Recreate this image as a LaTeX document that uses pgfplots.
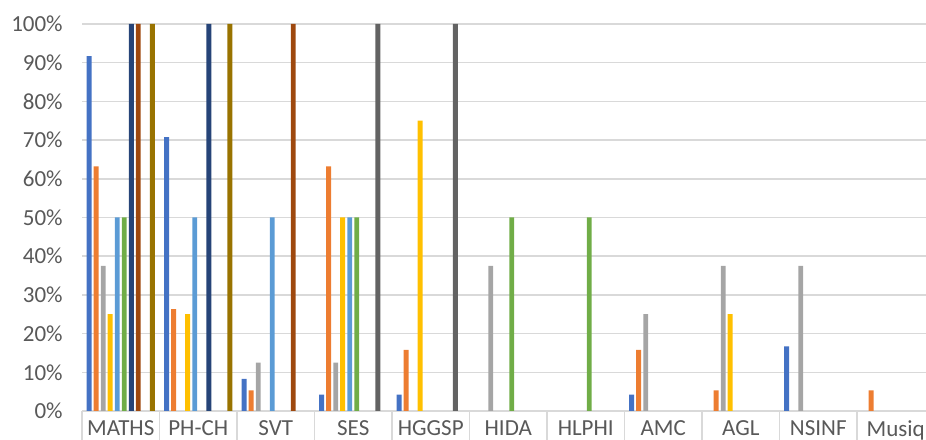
\documentclass[border=0pt]{standalone}
\usepackage{pgfplots}
\pgfplotsset{compat=1.18}
\usepackage{fontspec}
\setmainfont{Carlito}
\definecolor{gridc}{HTML}{D9D9D9}
\definecolor{txt}{HTML}{595959}
\definecolor{s1}{HTML}{4472C4}
\definecolor{s2}{HTML}{ED7D31}
\definecolor{s3}{HTML}{A5A5A5}
\definecolor{s4}{HTML}{FFC000}
\definecolor{s5}{HTML}{5B9BD5}
\definecolor{s6}{HTML}{70AD47}
\definecolor{s7}{HTML}{264478}
\definecolor{s8}{HTML}{9E480E}
\definecolor{s9}{HTML}{636363}
\definecolor{s10}{HTML}{997300}
\begin{document}
\begin{tikzpicture}
% 1px of the reference = 0.5pt
\useasboundingbox (0,0) rectangle (463pt,219.5pt);
\begin{axis}[
    at={(41pt,14pt)}, anchor=south west,
    scale only axis,
    width=426.25pt, height=193.5pt,
    xmin=-0.5, xmax=10.5,
    ymin=0, ymax=100,
    ybar, bar width=0.064,
    axis x line=bottom, axis y line=left,
    axis line style={-},
    x axis line style={draw=gridc, line width=0.75pt},
    y axis line style={draw=none},
    ymajorgrids,
    grid style={gridc, line width=0.75pt},
    ytick={0,10,...,100},
    yticklabel={\pgfmathprintnumber{\tick}\%},
    ytick style={draw=none},
    xtick={0,...,10},
    xticklabels={MATHS,PH-CH,SVT,SES,HGGSP,HIDA,HLPHI,AMC,AGL,NSINF,Musiq},
    xtick style={draw=none},
    extra x ticks={-0.5,0.5,...,10.5},
    extra x tick labels={},
    extra x tick style={tick align=outside, major tick length=16pt,
        xtick style={draw=gridc, line width=0.75pt}, grid=none},
    /pgf/number format/assume math mode=true,
    tick label style={font=\fontsize{11.5}{13}\selectfont, text=txt},
    yticklabel style={xshift=-4pt},
    xticklabel style={yshift=0.8pt},
    every axis plot/.append style={draw=none},
]
\addplot[fill=s1, bar shift=-0.407] coordinates {(0,91.7) (1,70.8) (2,8.3) (3,4.2) (4,4.2) (7,4.2) (9,16.7)};
\addplot[fill=s2, bar shift=-0.317] coordinates {(0,63.2) (1,26.3) (2,5.3) (3,63.2) (4,15.8) (7,15.8) (8,5.3) (10,5.3)};
\addplot[fill=s3, bar shift=-0.226] coordinates {(0,37.5) (2,12.5) (3,12.5) (5,37.5) (7,25) (8,37.5) (9,37.5)};
\addplot[fill=s4, bar shift=-0.136] coordinates {(0,25) (1,25) (3,50) (4,75) (8,25)};
\addplot[fill=s5, bar shift=-0.045] coordinates {(0,50) (1,50) (2,50) (3,50)};
\addplot[fill=s6, bar shift=0.045] coordinates {(0,50) (3,50) (5,50) (6,50)};
\addplot[fill=s7, bar shift=0.136] coordinates {(0,100) (1,100)};
\addplot[fill=s8, bar shift=0.226] coordinates {(0,100) (2,100)};
\addplot[fill=s9, bar shift=0.317] coordinates {(3,100) (4,100)};
\addplot[fill=s10, bar shift=0.407] coordinates {(0,100) (1,100)};
\end{axis}
\end{tikzpicture}
\end{document}
